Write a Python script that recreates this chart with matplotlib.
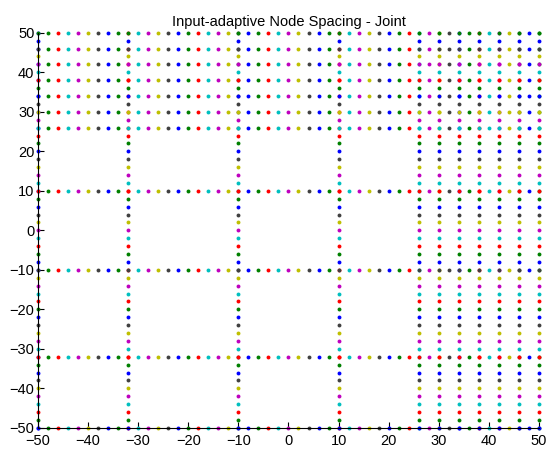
import numpy as np
import matplotlib
matplotlib.use('Agg')
from matplotlib import pyplot as plt

# node lines (x = const columns, y = const rows)
x_lines = [-50, -32, -10, 10, 26, 30, 34, 38, 42, 46, 50]
y_lines = [-50, -32, -10, 10, 26, 30, 34, 38, 42, 46, 50]
node_step = 2
lo, hi = -50, 50

# old matlab color order: b g r c m y k
colors = [(0, 0, 1), (0, 0.5, 0), (1, 0, 0), (0, 0.75, 0.75),
          (0.75, 0, 0.75), (0.75, 0.75, 0), (0.25, 0.25, 0.25)]

plt.rcParams['font.family'] = ['Liberation Sans', 'DejaVu Sans']

fig = plt.figure(figsize=(5.5, 4.49), dpi=100)
ax = fig.add_axes([0.069, 0.047, 0.911, 0.88])

pos = np.arange(lo, hi + 1, node_step)

# rows first, columns drawn on top
for y in y_lines:
    for i, x in enumerate(pos):
        ax.plot(x, y, 'o', color=colors[i % 7], ms=2.8, mew=0, clip_on=False)
for x in x_lines:
    for i, y in enumerate(pos):
        ax.plot(x, y, 'o', color=colors[i % 7], ms=2.8, mew=0, clip_on=False)

ax.set_xlim(lo, hi)
ax.set_ylim(lo, hi)
ax.set_xticks(range(-50, 51, 10))
ax.set_yticks(range(-50, 51, 10))
ax.tick_params(direction='in', length=4, labelsize=10.5)
ax.tick_params(axis='x', pad=4.5)
ax.tick_params(axis='y', pad=2.5)
ax.spines['top'].set_visible(False)
ax.spines['right'].set_visible(False)
ax.set_title('Input-adaptive Node Spacing - Joint', fontsize=10.5, pad=5)

plt.savefig('out.png', dpi=100)
